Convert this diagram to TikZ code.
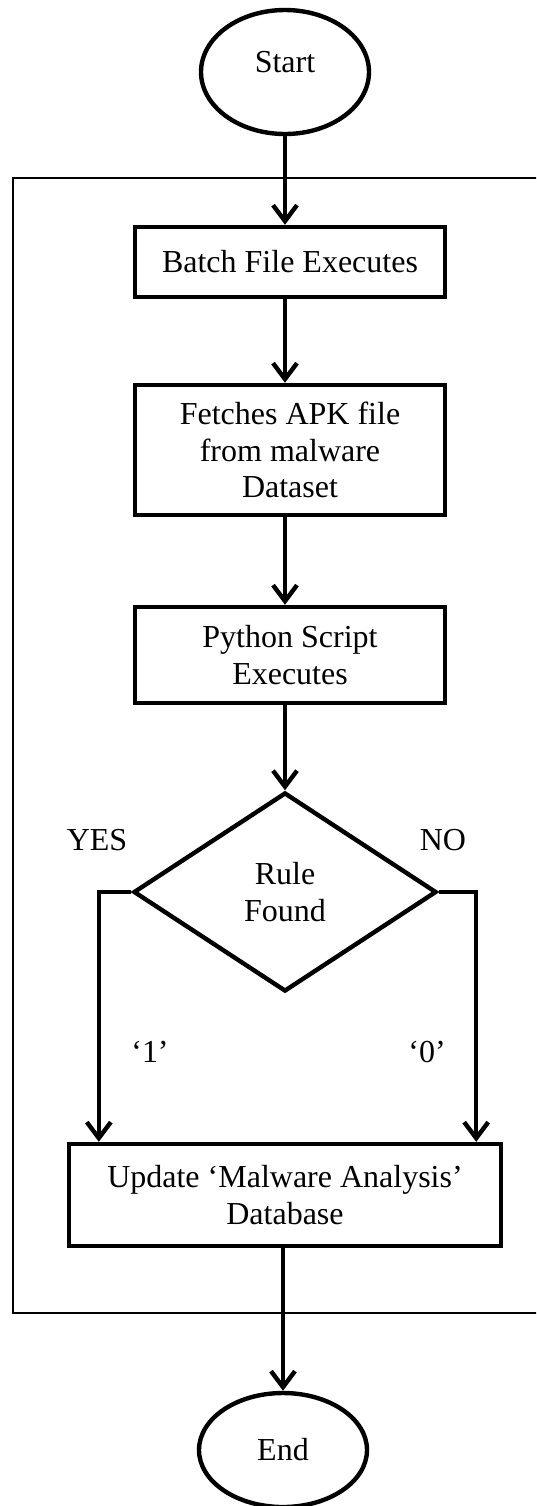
\documentclass[tikz,border=0pt]{standalone}
\usepackage{fontspec}
\setmainfont{Liberation Serif}
\usetikzlibrary{shapes.geometric,arrows.meta}

\begin{document}
\begin{tikzpicture}[x=0.5pt,y=-0.5pt,
	font=\fontsize{16}{18.3}\selectfont,
	terminal/.style={ellipse,draw,line width=2.2pt,minimum width=84pt,inner sep=0pt},
	process/.style={rectangle,draw,line width=2.2pt,minimum width=155pt,align=center,inner sep=0pt},
	decision/.style={diamond,draw,line width=2.2pt,minimum width=151.5pt,minimum height=99.5pt,align=center,inner sep=0pt},
	arr/.style={line width=2.2pt,-{Straight Barb[length=8pt,width=12pt]}},
	lbl/.style={inner sep=0pt}]
	\clip (0,0) rectangle (536,1506);
	% frame round the automated part
	\draw[line width=0.8pt] (560,178) -- (13,178) -- (13,1313) -- (560,1313);
	\node[terminal,minimum height=62pt,text depth=10pt] (start) at (285,72) {Start};
	\node[process,minimum height=35pt] (batch) at (290,262) {Batch File Executes};
	\node[process,minimum height=65pt] (fetch) at (290,450) {Fetches APK file\\from malware\\Dataset};
	\node[process,minimum height=48pt] (python) at (290,655) {Python Script\\Executes};
	\node[decision] (rule) at (285,892) {Rule\\Found};
	\node[process,minimum width=216pt,minimum height=51pt] (update) at (285,1195) {Update ‘Malware Analysis’\\Database};
	\node[terminal,minimum height=57pt] (end) at (283,1450) {End};
	% branch labels
	\node[lbl] (yes) at (97,840) {YES};
	\node[lbl] (no) at (443,840) {NO};
	\node[lbl] (one) at (150,1052) {‘1’};
	\node[lbl] (zero) at (427,1052) {‘0’};
	% connectors
	\draw[arr] (start.south) -- (start.south |- batch.north);
	\draw[arr] (start.south |- batch.south) -- (start.south |- fetch.north);
	\draw[arr] (start.south |- fetch.south) -- (start.south |- python.north);
	\draw[arr] (start.south |- python.south) -- (rule.north);
	\draw[arr] (rule.west) -| ([xshift=16pt]update.north west);
	\draw[arr] (rule.east) -| ([xshift=-13.5pt]update.north east);
	\draw[arr] (end.north |- update.south) -- (end.north);
\end{tikzpicture}
\end{document}
